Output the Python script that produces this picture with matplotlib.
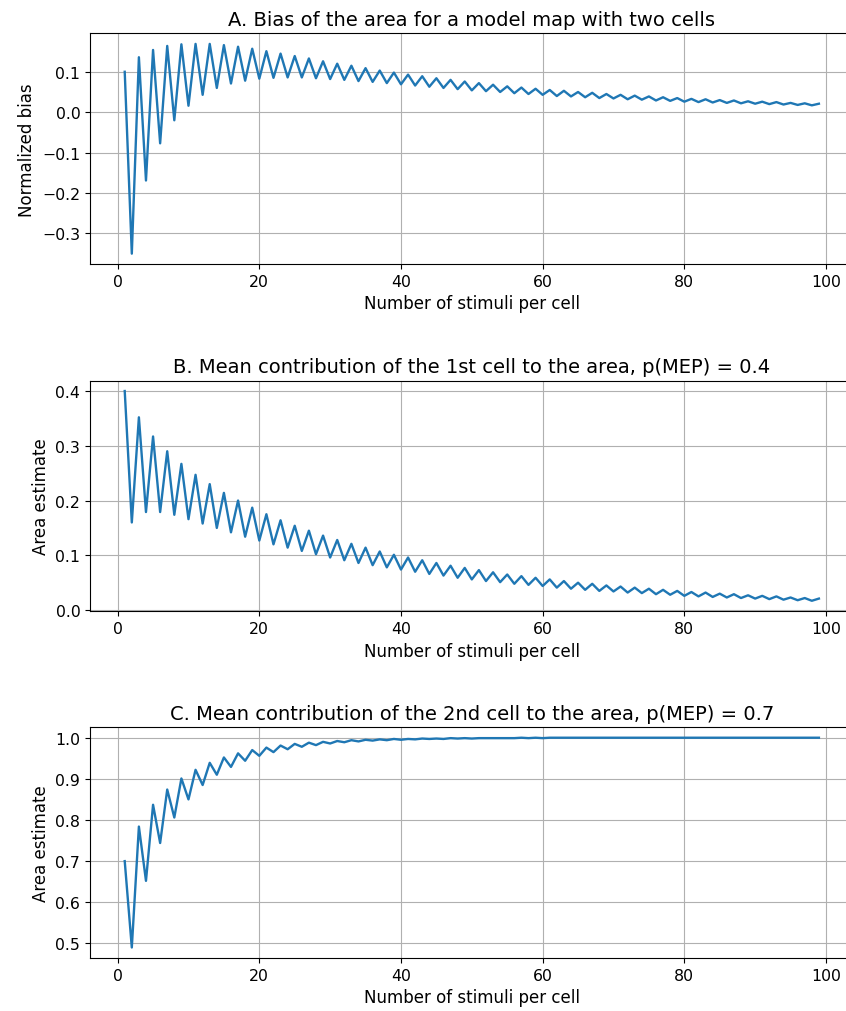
import numpy as np
import matplotlib
matplotlib.use("Agg")
import matplotlib.pyplot as plt

# number of stimuli per cell
n_stimuli = list(range(1, 100))

# B. mean contribution of the 1st cell, p(MEP) = 0.4
cell1 = [0.400, 0.160, 0.352, 0.179, 0.317, 0.179, 0.290, 0.174, 0.267, 0.166,
         0.247, 0.158, 0.230, 0.150, 0.214, 0.142, 0.200, 0.134, 0.187, 0.127,
         0.175, 0.120, 0.164, 0.114, 0.154, 0.108, 0.145, 0.102, 0.136, 0.096,
         0.128, 0.091, 0.121, 0.086, 0.114, 0.082, 0.107, 0.078, 0.101, 0.074,
         0.096, 0.070, 0.091, 0.066, 0.086, 0.063, 0.081, 0.059, 0.077, 0.056,
         0.073, 0.053, 0.069, 0.051, 0.065, 0.048, 0.062, 0.046, 0.059, 0.044,
         0.056, 0.041, 0.053, 0.039, 0.050, 0.037, 0.048, 0.035, 0.045, 0.034,
         0.043, 0.032, 0.041, 0.031, 0.039, 0.029, 0.037, 0.028, 0.035, 0.026,
         0.033, 0.025, 0.032, 0.024, 0.030, 0.023, 0.029, 0.022, 0.027, 0.021,
         0.026, 0.020, 0.025, 0.019, 0.023, 0.018, 0.022, 0.017, 0.021]

# C. mean contribution of the 2nd cell, p(MEP) = 0.7
cell2 = [0.700, 0.490, 0.784, 0.652, 0.837, 0.744, 0.874, 0.806, 0.901, 0.850,
         0.922, 0.885, 0.939, 0.910, 0.952, 0.929, 0.962, 0.944, 0.970, 0.956,
         0.976, 0.965, 0.981, 0.972, 0.985, 0.978, 0.988, 0.982, 0.990, 0.986,
         0.992, 0.989, 0.994, 0.991, 0.995, 0.993, 0.996, 0.994, 0.997, 0.995,
         0.997, 0.996, 0.998, 0.997, 0.998, 0.997, 0.999, 0.998, 0.999, 0.998,
         0.999, 0.999, 0.999, 0.999, 0.999, 0.999, 1.000, 0.999, 1.000, 0.999,
         1.000, 1.000, 1.000, 1.000, 1.000, 1.000, 1.000, 1.000, 1.000, 1.000,
         1.000, 1.000, 1.000, 1.000, 1.000, 1.000, 1.000, 1.000, 1.000, 1.000,
         1.000, 1.000, 1.000, 1.000, 1.000, 1.000, 1.000, 1.000, 1.000, 1.000,
         1.000, 1.000, 1.000, 1.000, 1.000, 1.000, 1.000, 1.000, 1.000]

# A. normalized bias of the area
bias = [0.100, -0.350, 0.136, -0.169, 0.154, -0.077, 0.164, -0.020, 0.168, 0.016,
        0.169, 0.043, 0.169, 0.060, 0.166, 0.071, 0.162, 0.078, 0.157, 0.083,
        0.151, 0.085, 0.145, 0.086, 0.139, 0.086, 0.133, 0.084, 0.126, 0.082,
        0.120, 0.080, 0.115, 0.077, 0.109, 0.075, 0.103, 0.072, 0.098, 0.069,
        0.093, 0.066, 0.089, 0.063, 0.084, 0.060, 0.080, 0.057, 0.076, 0.054,
        0.072, 0.052, 0.068, 0.050, 0.064, 0.047, 0.061, 0.045, 0.058, 0.043,
        0.055, 0.040, 0.053, 0.039, 0.050, 0.037, 0.048, 0.035, 0.045, 0.034,
        0.043, 0.032, 0.041, 0.031, 0.039, 0.029, 0.037, 0.028, 0.035, 0.026,
        0.033, 0.025, 0.032, 0.024, 0.030, 0.023, 0.029, 0.022, 0.027, 0.021,
        0.026, 0.020, 0.025, 0.019, 0.023, 0.018, 0.022, 0.017, 0.021]

titles = ["A. Bias of the area for a model map with two cells",
          "B. Mean contribution of the 1st cell to the area, p(MEP) = 0.4",
          "C. Mean contribution of the 2nd cell to the area, p(MEP) = 0.7"]
ylabels = ["Normalized bias", "Area estimate", "Area estimate"]
series = [bias, cell1, cell2]

fig = plt.figure(figsize=(8.46, 10.12), dpi=100)
bottoms = [0.738, 0.395, 0.0524]
for y, b, t, yl in zip(series, bottoms, titles, ylabels):
    ax = fig.add_axes([0.1064, b, 0.9026, 0.228])
    ax.plot(n_stimuli, y, color="#1f77b4", linewidth=1.7)
    ax.set_title(t, fontsize=14)
    ax.set_xlabel("Number of stimuli per cell", fontsize=12)
    ax.set_ylabel(yl, fontsize=12)
    ax.tick_params(labelsize=11.3)
    ax.grid(True)

fig.savefig("out.png", dpi=100)
